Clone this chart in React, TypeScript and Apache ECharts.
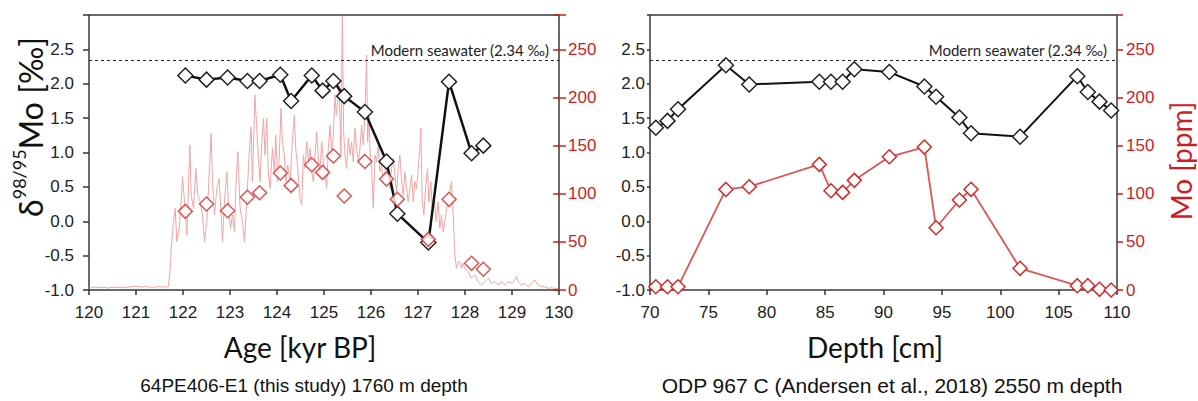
import React, { useEffect, useRef } from 'react';
import * as echarts from 'echarts';

// ---------- Left panel: 64PE406-E1 ----------
const ageTicks = [120, 121, 122, 123, 124, 125, 126, 127, 128, 129, 130];
const leftAge = [122.05, 122.5, 122.95, 123.37, 123.63, 124.07, 124.3, 124.74, 124.97, 125.2, 125.43, 125.87, 126.33, 126.56, 127.22, 127.66, 128.14, 128.39];
const leftD98 = [2.12, 2.06, 2.09, 2.04, 2.04, 2.13, 1.75, 2.12, 1.9, 2.04, 1.82, 1.59, 0.87, 0.11, -0.31, 2.03, 0.99, 1.1];
const leftMo = [81.7, 89.3, 82.4, 96.3, 101, 121.5, 108.7, 130.1, 122.2, 139.2, 97.6, 133.6, 115.3, 94.2, 52.6, 94.2, 27.7, 21.5];

// high resolution XRF Mo record [age, ppm]
const moXrf: [number, number][] = [
  [120.0, 2], [120.1, 3], [120.2, 2.5], [120.3, 3], [120.4, 2], [120.5, 3], [120.6, 2.5], [120.7, 3], [120.8, 2.5], [120.9, 3.5],
  [121.0, 4], [121.1, 3], [121.2, 3.5], [121.3, 3], [121.4, 3], [121.5, 3.5], [121.6, 3], [121.69, 3.4],
  [121.728, 22.5], [121.749, 43.3], [121.799, 71], [121.834, 84.8], [121.869, 50.2], [121.919, 64], [121.961, 91.7], [121.99, 117.7],
  [122.032, 91.7], [122.082, 57.1], [122.117, 105.6], [122.146, 150.6], [122.174, 98.7], [122.224, 84.8], [122.273, 126.3], [122.316, 98.7],
  [122.365, 91.7], [122.415, 77.9], [122.457, 50.2], [122.507, 71], [122.556, 119.4], [122.599, 162.7], [122.627, 112.5], [122.67, 77.9],
  [122.719, 105.6], [122.769, 116], [122.811, 77.9], [122.84, 50.2], [122.882, 91.7], [122.932, 122.9], [122.967, 91.7], [123.01, 64],
  [123.052, 77.9], [123.095, 60.6], [123.123, 105.6], [123.166, 143.7], [123.215, 84.8], [123.265, 71], [123.307, 50.2], [123.357, 91.7],
  [123.406, 140.2], [123.449, 169.6], [123.477, 112.5], [123.53, 202.5],
  [123.605, 136.7], [123.64, 112.5], [123.676, 154], [123.711, 178.3], [123.746, 140.2], [123.782, 178.3], [123.817, 119.4], [123.853, 105.6],
  [123.902, 147.1], [123.945, 122.9], [123.973, 161], [124.016, 112.5], [124.044, 133.3], [124.086, 188.7], [124.115, 154], [124.157, 140.2],
  [124.186, 112.5], [124.228, 129.8], [124.278, 112.5], [124.327, 154], [124.37, 181.7], [124.398, 147.1], [124.441, 126.3], [124.49, 95.2],
  [124.526, 88.3], [124.561, 140.2], [124.596, 126.3], [124.632, 154], [124.667, 133.3], [124.703, 147.1], [124.738, 122.9], [124.774, 112.5],
  [124.809, 140.2], [124.844, 164.4], [124.88, 136.7], [124.915, 122.9], [124.951, 154], [124.986, 133.3], [125.021, 119.4], [125.057, 105.6],
  [125.092, 147.1], [125.128, 171.4], [125.163, 140.2], [125.198, 161], [125.234, 202.5], [125.262, 181.7], [125.29, 195.6], [125.319, 216.4],
  [125.361, 140.2], [125.39, 285], [125.418, 164.4], [125.446, 140.2], [125.482, 126.3], [125.517, 157.5], [125.553, 140.2], [125.588, 154],
  [125.623, 133.3], [125.659, 167.9], [125.694, 147.1], [125.73, 133.3],
  [125.765, 147.1], [125.8, 171.4], [125.836, 150.6], [125.871, 181.7], [125.907, 244.1], [125.928, 154], [125.956, 181.7], [125.978, 147.1],
  [126.013, 126.3], [126.049, 84.8], [126.084, 140.2], [126.119, 133.3], [126.155, 150.6], [126.19, 122.9], [126.226, 129.8], [126.261, 112.5],
  [126.296, 122.9], [126.332, 136.7], [126.367, 122.9], [126.403, 105.6], [126.438, 126.3], [126.474, 136.7], [126.509, 119.4], [126.544, 102.1],
  [126.58, 126.3], [126.615, 140.2], [126.651, 112.5], [126.686, 98.7], [126.721, 122.9], [126.757, 105.6], [126.792, 91.7], [126.828, 105.6],
  [126.863, 119.4], [126.899, 91.7], [126.934, 112.5], [126.969, 105.6], [127.005, 126.3], [127.04, 147.1], [127.061, 167.9], [127.09, 91.7],
  [127.125, 77.9], [127.161, 105.6], [127.203, 126.3], [127.231, 91.7], [127.274, 112.5], [127.302, 84.8], [127.345, 98.7], [127.387, 71],
  [127.43, 91.7], [127.465, 64], [127.5, 77.9], [127.536, 60.6], [127.571, 71], [127.607, 84.8], [127.642, 91.7], [127.678, 102.1],
  [127.713, 112.5], [127.748, 77.9], [127.784, 36.3], [127.819, 22.5], [127.855, 29.4],
  [127.89, 29.4], [127.926, 22.5], [127.961, 27.7], [127.996, 22.5], [128.067, 19], [128.138, 12.1], [128.209, 15.6], [128.28, 8.6],
  [128.35, 5.2], [128.421, 8.6], [128.492, 12.1], [128.563, 6.9], [128.634, 8.6], [128.705, 5.2], [128.776, 8.6], [128.846, 5.2],
  [128.917, 8.6], [128.988, 6.9], [129.059, 10.4], [129.094, 13.8], [129.13, 8.6], [129.2, 5.2], [129.271, 6.9], [129.342, 3.4],
  [129.413, 6.9], [129.484, 10.4], [129.555, 5.2], [129.626, 3.4], [129.697, 3.4], [129.767, 1.7], [129.838, 2.4], [129.909, 1.7], [129.98, 1.7],
];

// ---------- Right panel: ODP 967 C ----------
const depthTicks = [70, 75, 80, 85, 90, 95, 100, 105, 110];
const rightDepth = [70.5, 71.5, 72.4, 76.5, 78.5, 84.5, 85.5, 86.5, 87.5, 90.5, 93.5, 94.5, 96.5, 97.5, 101.7, 106.6, 107.5, 108.5, 109.5];
const rightD98 = [1.36, 1.46, 1.63, 2.27, 1.99, 2.03, 2.03, 2.03, 2.21, 2.17, 1.96, 1.81, 1.51, 1.28, 1.23, 2.11, 1.88, 1.74, 1.61];
const rightMo = [3.4, 3.4, 3.4, 104.5, 107.3, 130.5, 103.1, 101.4, 113.9, 138.4, 148.5, 64.7, 93.5, 104.6, 22.5, 4.5, 4.5, 0.7, 0];

const d98Ticks = [-1.0, -0.5, 0.0, 0.5, 1.0, 1.5, 2.0, 2.5];
const moTicks = [0, 50, 100, 150, 200, 250];
const seawater = 2.34;

const TICK_FONT = "'Liberation Sans', Arial, sans-serif";
const TITLE_FONT = "Lato, 'Open Sans', sans-serif";
const RED = '#d01c1f';
const DARK = '#333333';

function pairs(xs: number[], ys: number[]) {
  return xs.map((x, i) => [x, ys[i]]);
}

export default function App() {
  const ref = useRef<HTMLDivElement>(null);
  useEffect(() => {
    document.body.style.margin = '0';
    if (!ref.current) return;
    const chart = echarts.init(ref.current, undefined, { renderer: 'svg' });

    const xAxisBase = (grid: number, min: number, max: number, interval: number) => ({
      gridIndex: grid,
      type: 'value',
      min,
      max,
      interval,
      axisLine: { show: false, onZero: false },
      axisTick: { show: true, inside: false, length: 5, lineStyle: { color: DARK, width: 1.5 } },
      axisLabel: { fontSize: 17, color: '#222', margin: 14, fontFamily: TICK_FONT },
      splitLine: { show: false },
    });

    const d98Max = 3;
    const moMax = 2000 / 7; // aligns 0..250 ppm with -1..2.5

    const d98Axis = (grid: number, margin: number, tickLen: number) => ({
      gridIndex: grid,
      type: 'value',
      position: 'left',
      min: -1,
      max: d98Max,
      interval: 0.5,
      axisLine: { show: false, onZero: false },
      axisTick: { show: true, inside: false, length: tickLen, lineStyle: { color: DARK, width: 1.5 } },
      axisLabel: {
        fontSize: 17,
        color: '#222',
        margin,
        fontFamily: TICK_FONT,
        formatter: (v: number) => (d98Ticks.some((t) => Math.abs(t - v) < 1e-6) ? v.toFixed(1) : ''),
      },
      splitLine: { show: false },
    });

    const moAxis = (grid: number, showLabel: boolean, inside: boolean, len: number) => ({
      gridIndex: grid,
      type: 'value',
      position: 'right',
      min: 0,
      max: moMax,
      interval: 50,
      axisLine: { show: false, onZero: false },
      axisTick: { show: true, inside, length: len, lineStyle: { color: RED, width: 1.5 } },
      axisLabel: {
        show: showLabel,
        fontSize: 17,
        color: RED,
        margin: 9,
        fontFamily: TICK_FONT,
        formatter: (v: number) => (moTicks.some((t) => Math.abs(t - v) < 1e-6) ? String(v) : ''),
      },
      splitLine: { show: false },
    });

    const seawaterLine = {
      silent: true,
      symbol: ['none', 'none'],
      lineStyle: { color: '#222', type: [3, 3], width: 1.2 },
      label: {
        show: true,
        position: 'insideEndTop',
        formatter: 'Modern seawater (2.34 \u2030)',
        fontSize: 15,
        fontFamily: TITLE_FONT,
        color: '#222',
        distance: [10, 3],
      },
      data: [{ yAxis: seawater }],
    };

    const blackDiamond = { color: '#ffffff', borderColor: '#222', borderWidth: 1.5 };
    const redDiamond = { color: '#ffffff', borderColor: '#d42a2a', borderWidth: 1.5 };

    const option: any = {
      animation: false,
      grid: [
        { left: 89, top: 15, width: 470, height: 275, show: true, borderColor: '#3a3a3a', borderWidth: 1.5, backgroundColor: 'transparent' },
        { left: 650, top: 15, width: 467, height: 275, show: true, borderColor: '#3a3a3a', borderWidth: 1.5, backgroundColor: 'transparent' },
      ],
      xAxis: [
        xAxisBase(0, ageTicks[0], ageTicks[ageTicks.length - 1], 1),
        xAxisBase(1, depthTicks[0], depthTicks[depthTicks.length - 1], 5),
      ],
      yAxis: [
        d98Axis(0, 15, 6),
        moAxis(0, true, false, 7),
        moAxis(0, false, true, 6),
        d98Axis(1, 5, 3),
        moAxis(1, true, false, 6),
      ],
      series: [
        {
          type: 'line',
          xAxisIndex: 0,
          yAxisIndex: 1,
          data: moXrf,
          showSymbol: false,
          symbol: 'none',
          lineStyle: { color: '#f2a4a4', width: 1 },
          z: 1,
          silent: true,
        },
        {
          type: 'line',
          xAxisIndex: 0,
          yAxisIndex: 0,
          data: pairs(leftAge, leftD98),
          symbol: 'diamond',
          symbolSize: 15,
          itemStyle: blackDiamond,
          lineStyle: { color: '#111', width: 2.5 },
          markLine: seawaterLine,
          z: 3,
        },
        {
          type: 'scatter',
          xAxisIndex: 0,
          yAxisIndex: 1,
          data: pairs(leftAge, leftMo),
          symbol: 'diamond',
          symbolSize: 14,
          itemStyle: redDiamond,
          z: 4,
        },
        {
          type: 'line',
          xAxisIndex: 1,
          yAxisIndex: 3,
          data: pairs(rightDepth, rightD98),
          symbol: 'diamond',
          symbolSize: 15,
          itemStyle: blackDiamond,
          lineStyle: { color: '#111', width: 2 },
          markLine: seawaterLine,
          z: 3,
        },
        {
          type: 'line',
          xAxisIndex: 1,
          yAxisIndex: 4,
          data: pairs(rightDepth, rightMo),
          symbol: 'diamond',
          symbolSize: 14,
          itemStyle: redDiamond,
          lineStyle: { color: '#dd5656', width: 1.8 },
          z: 3,
        },
      ],
      graphic: [
        {
          type: 'text',
          x: 28,
          y: 127,
          rotation: Math.PI / 2,
          style: {
            text: '{d|\u03b4}{s|98/95}{m|Mo [\u2030]}',
            align: 'center',
            verticalAlign: 'middle',
            fill: '#111',
            rich: {
              d: { fontSize: 32, fontFamily: TITLE_FONT, fill: '#111', lineHeight: 36, verticalAlign: 'bottom' },
              s: { fontSize: 18, fontFamily: TITLE_FONT, fill: '#111', lineHeight: 21, verticalAlign: 'top' },
              m: { fontSize: 32, fontFamily: TITLE_FONT, fill: '#111', lineHeight: 36, verticalAlign: 'bottom' },
            },
          },
        },
        {
          type: 'text',
          x: 1181,
          y: 161,
          rotation: Math.PI / 2,
          style: { text: 'Mo [ppm]', fontSize: 28, fontFamily: TITLE_FONT, fill: RED, align: 'center', verticalAlign: 'middle' },
        },
        {
          type: 'text',
          x: 300,
          y: 347,
          style: { text: 'Age [kyr BP]', fontSize: 28, fontFamily: TITLE_FONT, fill: '#111', align: 'center', verticalAlign: 'middle' },
        },
        {
          type: 'text',
          x: 304,
          y: 385,
          style: { text: '64PE406-E1 (this study) 1760 m depth', fontSize: 19, fontFamily: TICK_FONT, fill: '#111', align: 'center', verticalAlign: 'middle' },
        },
        {
          type: 'text',
          x: 875,
          y: 347,
          style: { text: 'Depth [cm]', fontSize: 28, fontFamily: TITLE_FONT, fill: '#111', align: 'center', verticalAlign: 'middle' },
        },
        {
          type: 'text',
          x: 892,
          y: 385,
          style: { text: 'ODP 967 C (Andersen et al., 2018) 2550 m depth', fontSize: 21, fontFamily: TICK_FONT, fill: '#111', align: 'center', verticalAlign: 'middle' },
        },
      ],
    };

    chart.setOption(option);
    return () => chart.dispose();
  }, []);

  return <div ref={ref} style={{ width: 1198, height: 401, background: '#fff' }} />;
}
